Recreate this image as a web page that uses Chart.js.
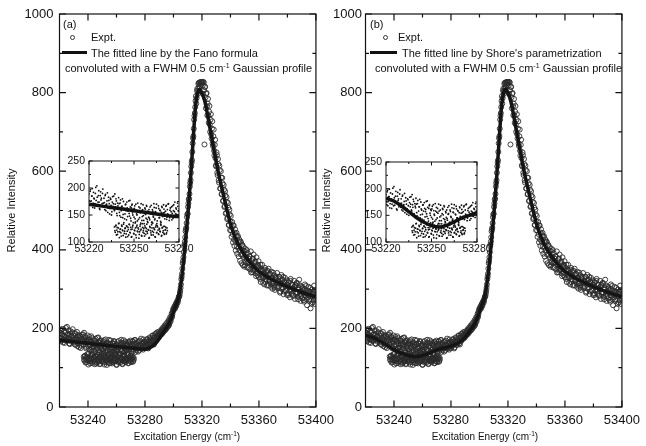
<!DOCTYPE html>
<html>
<head>
<meta charset="utf-8">
<script src="https://cdn.jsdelivr.net/npm/chart.js@4.4.0/dist/chart.umd.min.js"></script>
<style>
  body { margin: 0; background: #fff; }
  #wrap { position: relative; width: 646px; height: 446px; overflow: hidden;
          font-family: "Liberation Sans", Arial, sans-serif; color: #111; }
  canvas { position: absolute; }
  .txt { position: absolute; white-space: nowrap; font-size: 11px; line-height: 12px; }
  .txt sup { font-size: 7px; line-height: 0; vertical-align: 4px; }
  .xtitle { position: absolute; width: 200px; text-align: center; font-size: 10px; line-height: 12px; }
  .xtitle sup { font-size: 6.5px; line-height: 0; vertical-align: 4px; }
  .dot { position: absolute; width: 3.4px; height: 3.4px; border: 0.9px solid #333; border-radius: 50%; }
  .bar { position: absolute; height: 3px; background: #111; }
</style>
</head>
<body>
<div id="wrap">
  <canvas id="main-a" width="340" height="446" style="left:0;top:0"></canvas>
  <canvas id="main-b" width="326" height="446" style="left:320px;top:0"></canvas>
  <canvas id="inset-a" width="135" height="110" style="left:60px;top:150px"></canvas>
  <canvas id="inset-b" width="136" height="110" style="left:357px;top:151px"></canvas>

  <!-- panel (a) legend -->
  <div class="txt" style="left:63px;top:18px">(a)</div>
  <div class="dot" style="left:69.5px;top:34.5px"></div>
  <div class="txt" style="left:91px;top:30.5px">Expt.</div>
  <div class="bar" style="left:62px;top:50.5px;width:25px"></div>
  <div class="txt" style="left:91px;top:46.5px">The fitted line by the Fano formula</div>
  <div class="txt" style="left:65px;top:62px">convoluted with a FWHM 0.5 cm<sup>-1</sup> Gaussian profile</div>

  <!-- panel (b) legend -->
  <div class="txt" style="left:370px;top:18px">(b)</div>
  <div class="dot" style="left:382.5px;top:34.5px"></div>
  <div class="txt" style="left:398px;top:30.5px">Expt.</div>
  <div class="bar" style="left:370px;top:50.5px;width:27px"></div>
  <div class="txt" style="left:402px;top:46.5px">The fitted line by Shore's parametrization</div>
  <div class="txt" style="left:375px;top:62px">convoluted with a FWHM 0.5 cm<sup>-1</sup> Gaussian profile</div>

  <div class="xtitle" style="left:87px;top:431px">Excitation Energy (cm<sup>-1</sup>)</div>
  <div class="xtitle" style="left:385px;top:431px">Excitation Energy (cm<sup>-1</sup>)</div>
</div>

<script>
/************** measured spectrum (0.5 cm-1 scan step) ****************/
const scanStep = 0.5;

// low-energy wing, 53220 .. 53289.5
const wingStart = 53220;
const exptWing = [
  189, 170, 197, 176, 185, 164, 192, 180, 171, 201, 168, 183, 174, 195, 162, 186, 178, 166, 190, 172,
  181, 160, 188, 169, 176, 155, 183, 171, 162, 179, 150, 174, 166, 185, 158, 170, 180, 153, 172, 164,
  171, 149, 178, 158, 166, 145, 175, 160, 152, 170, 141, 163, 157, 176, 148, 165, 139, 168, 154, 161,
  146, 167, 137, 159, 150, 172, 142, 156, 163, 135, 158, 147, 169, 140, 153, 161, 144, 166, 138, 155,
  160, 141, 152, 168, 137, 157, 146, 164, 143, 155, 170, 139, 151, 162, 145, 158, 136, 166, 148, 154,
  161, 143, 157, 168, 146, 152, 171, 140, 159, 149, 165, 153, 144, 169, 156, 148, 163, 151, 172, 158,
  150, 166, 157, 173, 161, 152, 170, 163, 175, 158, 168, 181, 162, 176, 185, 171, 180, 190, 174, 186
];
// repeat scan of the wing, shifted by a quarter step
const wingRepeatStart = 53220.25;
const exptWingRepeat = [
  176, 194, 168, 185, 199, 172, 181, 163, 190, 177, 204, 169, 186, 174, 160, 193, 181, 171, 198, 165,
  173, 186, 158, 170, 191, 163, 177, 152, 181, 168, 156, 184, 171, 160, 189, 165, 176, 149, 167, 182,
  155, 172, 146, 166, 180, 151, 162, 143, 169, 158, 174, 147, 161, 153, 177, 144, 163, 170, 150, 159,
  162, 143, 170, 152, 139, 158, 165, 145, 154, 171, 140, 160, 149, 134, 163, 151, 168, 142, 157, 146,
  144, 165, 153, 136, 160, 148, 171, 141, 156, 163, 134, 152, 167, 145, 159, 138, 155, 164, 147, 169,
  155, 148, 166, 142, 160, 170, 150, 145, 163, 156, 141, 167, 158, 149, 174, 152, 161, 146, 166, 157,
  162, 154, 171, 159, 149, 166, 177, 158, 169, 163, 182, 170, 159, 178, 168, 187, 175, 183, 179, 192
];

// lower-lying points over the dip, 53237 .. 53272
const dipStart = 53237;
const exptDip = [
  128, 118, 131, 122, 114, 126, 135, 119, 124, 111, 129, 121, 133, 116, 125, 109, 130, 120, 127, 113,
  132, 117, 123, 110, 128, 136, 115, 121, 126, 108, 131, 119, 124, 114, 129, 122, 112, 134, 118, 125,
  111, 127, 120, 133, 116, 123, 107, 129, 121, 113, 126, 135, 118, 124, 110, 128, 117, 130, 122, 114,
  125, 119, 131, 112, 127, 121, 116, 129, 123, 115, 126
];
const dipRepeatStart = 53237.25;
const exptDipRepeat = [
  121, 130, 113, 127, 119, 134, 108, 124, 117, 131, 122, 112, 136, 120, 126, 115, 129, 110, 123, 133,
  118, 127, 109, 124, 131, 116, 122, 135, 113, 128, 120, 126, 107, 119, 132, 124, 111, 127, 121, 116,
  130, 114, 125, 119, 136, 122, 108, 127, 117, 132, 120, 113, 126, 123, 109, 131, 118, 128, 115, 124,
  120, 133, 111, 126, 118, 129, 114, 122, 127, 117, 121
];

// resonance, 53290 .. 53349.5
const peakStart = 53290;
const exptPeak = [
  178, 188, 183, 194, 186, 197, 191, 200, 195, 205, 199, 208, 204, 213, 209, 221, 218, 231, 229, 242,
  246, 253, 250, 261, 257, 268, 266, 277, 281, 290, 303, 325, 339, 366, 381, 409, 421, 447, 456, 483,
  492, 518, 530, 561, 577, 612, 628, 671, 689, 731, 748, 779, 772, 805, 796, 822, 811, 826, 819, 827,
  826, 818, 827, 806, 814, 788, 797, 765, 772, 741, 752, 719, 731, 694, 708, 671, 689, 652, 667, 633,
  612, 641, 590, 618, 571, 603, 556, 584, 542, 569, 525, 553, 511, 538, 494, 522, 481, 507, 463, 490,
  472, 449, 458, 440, 461, 426, 444, 423, 437, 408, 433, 405, 419, 399, 421, 388, 412, 386, 398, 381
];
const peakRepeatStart = 53290.25;
const exptPeakRepeat = [
  183, 191, 186, 198, 189, 202, 194, 207, 197, 211, 203, 216, 206, 222, 214, 229, 224, 238, 236, 249,
  249, 256, 254, 263, 262, 270, 272, 280, 284, 296, 312, 331, 352, 372, 394, 414, 432, 452, 468, 490,
  509, 528, 542, 570, 596, 622, 649, 684, 708, 741, 763, 791, 786, 810, 803, 825, 816, 824, 827, 821,
  827, 797, 826, 668, 815, 760, 799, 742, 784, 723, 766, 700, 745, 683, 727, 664, 706, 640, 680, 615,
  648, 596, 631, 577, 614, 556, 600, 541, 583, 524, 565, 509, 549, 492, 534, 478, 519, 463, 502, 450,
  486, 433, 471, 419, 462, 410, 452, 398, 443, 390, 435, 383, 426, 372, 420, 366, 413, 361, 407, 357
];

// high-energy tail, 53350 .. 53400
const tailStart = 53350;
const exptTail = [
  397, 368, 383, 399, 368, 354, 377, 383, 364, 342, 371, 377, 347, 357, 348, 371, 333, 357, 343, 360,
  330, 347, 362, 330, 337, 348, 316, 341, 349, 318, 333, 323, 347, 310, 337, 323, 338, 314, 327, 301,
  342, 316, 304, 328, 332, 306, 317, 322, 306, 331, 294, 315, 323, 305, 331, 294, 317, 307, 296, 322,
  311, 285, 317, 296, 321, 299, 288, 311, 302, 283, 306, 311, 288, 316, 290, 274, 299, 310, 282, 294,
  283, 305, 297, 272, 300, 285, 308, 274, 290, 279, 295, 270, 303, 282, 263, 290, 294, 271, 297, 275, 281
];
const tailRepeatStart = 53350.25;
const exptTailRepeat = [
  361, 402, 376, 355, 391, 369, 384, 350, 396, 361, 343, 378, 388, 352, 366, 340, 381, 362, 335, 371,
  355, 326, 318, 349, 362, 331, 340, 312, 354, 325, 345, 309, 331, 352, 320, 339, 306, 344, 329, 315,
  309, 335, 298, 327, 316, 341, 302, 320, 331, 291, 314, 336, 300, 324, 287, 318, 329, 296, 311, 285,
  290, 318, 305, 279, 326, 296, 311, 283, 300, 321, 275, 309, 292, 315, 281, 303, 324, 288, 270, 307,
  276, 301, 290, 268, 312, 283, 295, 259, 287, 306, 274, 293, 251, 284, 299, 266, 289, 309, 262, 278
];

/************** fitted profiles ****************/
const fitEnergy = [
  53220, 53225, 53230, 53235, 53240, 53245, 53250, 53255, 53260, 53265,
  53270, 53275, 53280, 53284, 53288, 53291, 53294, 53297, 53300, 53302,
  53304, 53306, 53308, 53310, 53312, 53314, 53315.5, 53317, 53318.5, 53320,
  53322, 53324, 53326, 53328, 53331, 53334, 53337, 53340, 53343, 53346,
  53350, 53354, 53358, 53362, 53366, 53370, 53375, 53380, 53385, 53390,
  53395, 53400
];
// Fano formula
const fitFano = [
  170, 168, 166, 164, 162, 160, 158, 156, 154, 152,
  150, 148, 147, 152, 164, 180, 196, 214, 242, 262,
  285, 335, 405, 485, 580, 690, 765, 800, 808, 798,
  778, 742, 702, 662, 605, 556, 510, 466, 434, 410,
  386, 367, 351, 340, 331, 323, 314, 306, 299, 292,
  286, 280
];
// Shore's parametrization
const fitShore = [
  182, 177, 168, 157, 146, 137, 131, 128, 131, 138,
  145, 150, 155, 161, 170, 182, 197, 214, 242, 262,
  285, 335, 405, 485, 580, 690, 765, 801, 809, 799,
  778, 742, 702, 662, 605, 556, 510, 466, 434, 410,
  386, 367, 351, 340, 331, 323, 314, 306, 299, 292,
  286, 280
];

/************** axes ****************/
const mainXLabels = [53240, 53280, 53320, 53360, 53400];
const mainXMinor = [53260, 53300, 53340, 53380];
const mainYLabels = [0, 200, 400, 600, 800, 1000];
const mainYMinor = [100, 300, 500, 700, 900];

const insetXLabels = [53220, 53250, 53280];
const insetXMinor = [53235, 53265];
const insetYLabels = [100, 150, 200, 250];
const insetYMinor = [125, 175, 225];

const FONT = '"Liberation Sans", Arial, sans-serif';
Chart.defaults.font.family = FONT;
Chart.defaults.color = '#111';

function toPoints(start, values) {
  return values.map((v, i) => ({ x: start + i * scanStep, y: v }));
}

const exptPoints = [
  ...toPoints(wingStart, exptWing),
  ...toPoints(wingRepeatStart, exptWingRepeat),
  ...toPoints(dipStart, exptDip),
  ...toPoints(dipRepeatStart, exptDipRepeat),
  ...toPoints(peakStart, exptPeak),
  ...toPoints(peakRepeatStart, exptPeakRepeat),
  ...toPoints(tailStart, exptTail),
  ...toPoints(tailRepeatStart, exptTailRepeat)
];

function fitPoints(values) {
  return fitEnergy.map((e, i) => ({ x: e, y: values[i] }));
}

// box around the plot area with inward ticks on all four sides
const framePlugin = {
  id: 'frame',
  beforeDraw(chart, args, opts) {
    if (!opts.fill) return;
    const a = chart.chartArea, ctx = chart.ctx;
    ctx.save();
    ctx.fillStyle = '#fff';
    ctx.fillRect(a.left, a.top, a.right - a.left, a.bottom - a.top);
    ctx.restore();
  },
  afterDraw(chart, args, opts) {
    const { ctx, chartArea: a, scales: { x, y } } = chart;
    ctx.save();
    ctx.strokeStyle = '#111';
    ctx.lineWidth = opts.lineWidth;
    ctx.strokeRect(a.left, a.top, a.right - a.left, a.bottom - a.top);

    const xMarks = opts.xMajor.map(v => [v, opts.major]).concat(opts.xMinor.map(v => [v, opts.minor]));
    const yMarks = opts.yMajor.map(v => [v, opts.major]).concat(opts.yMinor.map(v => [v, opts.minor]));
    ctx.beginPath();
    xMarks.forEach(([v, len]) => {
      const px = x.getPixelForValue(v);
      ctx.moveTo(px, a.bottom); ctx.lineTo(px, a.bottom - len);
      ctx.moveTo(px, a.top); ctx.lineTo(px, a.top + len);
    });
    yMarks.forEach(([v, len]) => {
      const py = y.getPixelForValue(v);
      ctx.moveTo(a.left, py); ctx.lineTo(a.left + len, py);
      ctx.moveTo(a.right, py); ctx.lineTo(a.right - len, py);
    });
    ctx.stroke();
    ctx.restore();
  }
};

function setTicks(list) {
  return scale => { scale.ticks = list.map(v => ({ value: v })); };
}

function mainChart(id, fitValues, axisWidth, labelPad, titlePad, rightPad) {
  return new Chart(document.getElementById(id), {
    type: 'scatter',
    data: {
      datasets: [{
        data: fitPoints(fitValues),
        showLine: true,
        borderColor: '#151515',
        borderWidth: 3.5,
        pointRadius: 0,
        cubicInterpolationMode: 'monotone'
      }, {
        data: exptPoints,
        pointRadius: 2.5,
        pointBorderWidth: 0.9,
        borderColor: '#2a2a2a',
        pointBorderColor: '#2a2a2a',
        backgroundColor: 'rgba(0,0,0,0)',
        pointBackgroundColor: 'rgba(0,0,0,0)'
      }]
    },
    options: {
      responsive: false,
      animation: false,
      devicePixelRatio: 1,
      layout: { padding: { left: 0, top: 14, right: rightPad, bottom: 0 } },
      plugins: {
        legend: { display: false },
        tooltip: { enabled: false },
        frame: {
          lineWidth: 1.2, major: 6.5, minor: 3.5,
          xMajor: mainXLabels, xMinor: mainXMinor,
          yMajor: mainYLabels, yMinor: mainYMinor
        }
      },
      scales: {
        x: {
          type: 'linear', min: 53220, max: 53400,
          grid: { display: false, drawTicks: false },
          border: { display: false },
          ticks: { font: { size: 13 }, padding: 6, maxRotation: 0, autoSkip: false, callback: v => String(v) },
          afterBuildTicks: setTicks(mainXLabels),
          afterFit: s => { s.height = 39; }
        },
        y: {
          min: 0, max: 1000,
          grid: { display: false, drawTicks: false },
          border: { display: false },
          ticks: { font: { size: 13 }, padding: labelPad, autoSkip: false, callback: v => String(v) },
          afterBuildTicks: setTicks(mainYLabels),
          afterFit: s => { s.width = axisWidth; },
          title: { display: true, text: 'Relative Intensity', font: { size: 11 }, padding: { top: titlePad, bottom: 0 } }
        }
      }
    },
    plugins: [framePlugin]
  });
}

function insetChart(id, fitValues, xAxisHeight) {
  return new Chart(document.getElementById(id), {
    type: 'scatter',
    data: {
      datasets: [{
        data: fitPoints(fitValues),
        showLine: true,
        borderColor: '#111',
        borderWidth: 3.5,
        pointRadius: 0,
        cubicInterpolationMode: 'monotone'
      }, {
        data: exptPoints,
        pointRadius: 0.9,
        pointBorderWidth: 0,
        backgroundColor: '#111',
        pointBackgroundColor: '#111'
      }]
    },
    options: {
      responsive: false,
      animation: false,
      devicePixelRatio: 1,
      layout: { padding: { left: 0, top: 11, right: 16, bottom: 0 } },
      plugins: {
        legend: { display: false },
        tooltip: { enabled: false },
        frame: {
          fill: true, lineWidth: 1, major: 3.5, minor: 2,
          xMajor: insetXLabels, xMinor: insetXMinor,
          yMajor: insetYLabels, yMinor: insetYMinor
        }
      },
      scales: {
        x: {
          type: 'linear', min: 53220, max: 53280,
          grid: { display: false, drawTicks: false },
          border: { display: false },
          ticks: { font: { size: 10.5 }, padding: 1, maxRotation: 0, autoSkip: false, callback: v => String(v) },
          afterBuildTicks: setTicks(insetXLabels),
          afterFit: s => { s.height = xAxisHeight; }
        },
        y: {
          min: 100, max: 250,
          grid: { display: false, drawTicks: false },
          border: { display: false },
          ticks: { font: { size: 10.5 }, padding: 4, autoSkip: false, callback: v => String(v) },
          afterBuildTicks: setTicks(insetYLabels),
          afterFit: s => { s.width = 29; }
        }
      }
    },
    plugins: [framePlugin]
  });
}

mainChart('main-a', fitFano, 59.5, 6, 5.4, 20);
mainChart('main-b', fitShore, 45.5, 3.5, 0.4, 18);
insetChart('inset-a', fitFano, 18);
insetChart('inset-b', fitShore, 19);
</script>
</body>
</html>
